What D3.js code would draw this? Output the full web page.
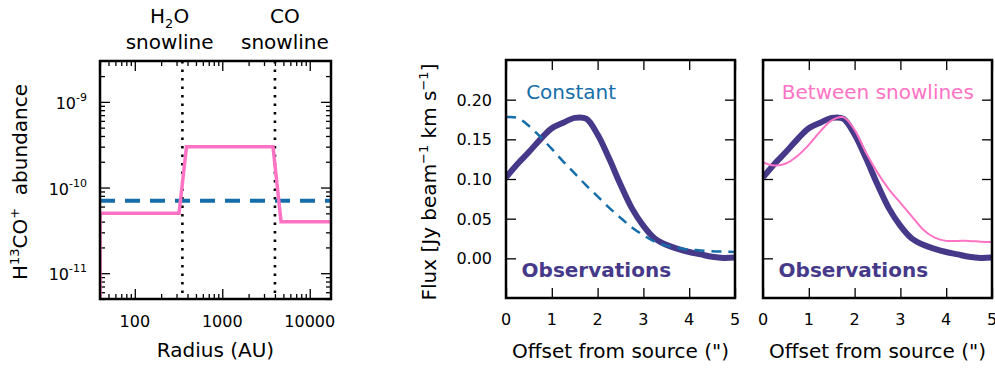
<!DOCTYPE html>
<html>
<head>
<meta charset="utf-8">
<script src="https://cdn.jsdelivr.net/npm/d3@7"></script>
<style>
  body { margin: 0; background: #fff; }
  text { font-family: "DejaVu Sans", sans-serif; fill: #000; }
</style>
</head>
<body>
<svg id="chart" width="995" height="368"></svg>
<script>
// abundance profiles (left panel)
const radiusBetween = [40, 40, 320, 390, 3800, 4700, 17500];
const abundBetween = [1e-13, 5e-11, 5e-11, 3e-10, 3e-10, 4e-11, 4e-11];
const radiusConstant = [40, 17500];
const abundConstant = [7e-11, 7e-11];
const snowlineRadius = [350, 4000];
const snowlineLabelRadius = [250, 5200];
const radiusTicks = [100, 1000, 10000];
const abundTicks = [1e-9, 1e-10, 1e-11];
const abundTickExp = ["-9", "-10", "-11"];

// radial flux profiles (middle + right panels)
const offset = [0, 0.25, 0.5, 0.75, 1, 1.25, 1.5, 1.75, 2, 2.25, 2.5, 2.75, 3, 3.25, 3.5, 3.75, 4, 4.25, 4.5, 4.75, 5];
const obsFlux = [0.102, 0.119, 0.134, 0.150, 0.164, 0.171, 0.177, 0.176, 0.156, 0.126, 0.093, 0.063, 0.041, 0.025, 0.017, 0.012, 0.008, 0.005, 0.002, 0.0005, 0.001];
const constantFlux = [0.178, 0.177, 0.167, 0.153, 0.138, 0.122, 0.107, 0.092, 0.078, 0.064, 0.051, 0.039, 0.029, 0.021, 0.016, 0.013, 0.011, 0.010, 0.009, 0.0085, 0.008];
const betweenFlux = [0.121, 0.117, 0.1195, 0.129, 0.143, 0.160, 0.174, 0.178, 0.162, 0.133, 0.108, 0.087, 0.070, 0.053, 0.036, 0.026, 0.022, 0.022, 0.022, 0.021, 0.0205];
const offsetTicks = [0, 1, 2, 3, 4, 5];
const fluxTicks = [0, 0.05, 0.10, 0.15, 0.20];

const obsColor = "#46398a";
const blue = "#156ea9";
const pink = "#ff73c4";

const svg = d3.select("#chart");

function frame(g, w, h) {
  g.append("rect").attr("width", w).attr("height", h)
    .attr("fill", "none").attr("stroke", "#000").attr("stroke-width", 2.5);
}

function clip(g, id, w, h) {
  g.append("clipPath").attr("id", id).append("rect").attr("width", w).attr("height", h);
}

// ---------- left panel ----------
const L = { x: 100, y: 61, w: 231, h: 238 };
const gl = svg.append("g").attr("transform", `translate(${L.x},${L.y})`);
clip(gl, "clipL", L.w, L.h);

const xr = d3.scaleLog().domain([40, 17500]).range([0, L.w]);
const ya = d3.scaleLog().domain([5e-12, 3e-9]).range([L.h, 0]);

// minor ticks 2..9 per decade
const minorX = [];
for (let e = 1; e <= 4; e++) for (let m = 2; m <= 9; m++) {
  const v = m * Math.pow(10, e);
  if (v >= 40 && v <= 17500) minorX.push(v);
}
const minorY = [];
for (let e = -12; e <= -9; e++) for (let m = 2; m <= 9; m++) {
  const v = m * Math.pow(10, e);
  if (v >= 5e-12 && v <= 3e-9) minorY.push(v);
}

function tickAxes(g, xs, ys, w, h, xMajor, xMinor, yMajor, yMinor) {
  const sets = [
    [d3.axisBottom(xs).tickValues(xMajor).tickSize(-10), `translate(0,${h})`],
    [d3.axisTop(xs).tickValues(xMajor).tickSize(-10), null],
    [d3.axisLeft(ys).tickValues(yMajor).tickSize(-10), null],
    [d3.axisRight(ys).tickValues(yMajor).tickSize(-10), `translate(${w},0)`]
  ];
  if (xMinor) {
    sets.push([d3.axisBottom(xs).tickValues(xMinor).tickSize(-5), `translate(0,${h})`]);
    sets.push([d3.axisTop(xs).tickValues(xMinor).tickSize(-5), null]);
  }
  if (yMinor) {
    sets.push([d3.axisLeft(ys).tickValues(yMinor).tickSize(-5), null]);
    sets.push([d3.axisRight(ys).tickValues(yMinor).tickSize(-5), `translate(${w},0)`]);
  }
  sets.forEach(([ax, tr]) => {
    const a = g.append("g").call(ax.tickFormat(""));
    if (tr) a.attr("transform", tr);
    a.select(".domain").remove();
    a.selectAll("line").attr("stroke", "#000").attr("stroke-width", 1.3);
  });
}

tickAxes(gl, xr, ya, L.w, L.h, radiusTicks, minorX, abundTicks, minorY);

// snowlines
gl.selectAll(".snow").data(snowlineRadius).enter().append("line")
  .attr("x1", d => xr(d)).attr("x2", d => xr(d))
  .attr("y1", 0).attr("y2", L.h)
  .attr("stroke", "#000").attr("stroke-width", 2.6)
  .attr("stroke-dasharray", "2.5,6");

const lineL = d3.line().x(d => xr(d[0])).y(d => ya(d[1]));
gl.append("path").datum(radiusConstant.map((r, i) => [r, abundConstant[i]]))
  .attr("d", lineL).attr("fill", "none").attr("stroke", blue)
  .attr("stroke-width", 4).attr("stroke-dasharray", "15,10")
  .attr("clip-path", "url(#clipL)");
gl.append("path").datum(radiusBetween.map((r, i) => [r, abundBetween[i]]))
  .attr("d", lineL).attr("fill", "none").attr("stroke", pink)
  .attr("stroke-width", 3.5).attr("clip-path", "url(#clipL)");

frame(gl, L.w, L.h);

// tick labels
gl.selectAll(".xl").data(radiusTicks).enter().append("text")
  .attr("x", d => xr(d)).attr("y", L.h + 28)
  .attr("text-anchor", "middle").attr("font-size", 16).text(d => d);
const yl = gl.selectAll(".yl").data(abundTicks).enter().append("text")
  .attr("x", -13).attr("y", d => ya(d) + 7)
  .attr("text-anchor", "end").attr("font-size", 16);
yl.append("tspan").text("10");
yl.append("tspan").attr("dy", -8).attr("font-size", 11).text((d, i) => abundTickExp[i]);

gl.append("text").attr("x", L.w / 2).attr("y", L.h + 58)
  .attr("text-anchor", "middle").attr("font-size", 20).text("Radius (AU)");

const ylab = svg.append("text")
  .attr("transform", "translate(27,182) rotate(-90)")
  .attr("text-anchor", "middle").attr("font-size", 20);
ylab.append("tspan").text("H");
ylab.append("tspan").attr("dy", -8).attr("font-size", 13).text("13");
ylab.append("tspan").attr("dy", 8).text("CO");
ylab.append("tspan").attr("dy", -8).attr("font-size", 13).text("+");
ylab.append("tspan").attr("dy", 8).text("\u00a0 abundance");

// snowline titles
const t0 = svg.append("text").attr("x", L.x + xr(snowlineLabelRadius[0])).attr("y", 23)
  .attr("text-anchor", "middle").attr("font-size", 20);
t0.append("tspan").text("H");
t0.append("tspan").attr("dy", 5).attr("font-size", 13).text("2");
t0.append("tspan").attr("dy", -5).text("O");
svg.append("text").attr("x", L.x + xr(snowlineLabelRadius[0])).attr("y", 49)
  .attr("text-anchor", "middle").attr("font-size", 20).text("snowline");
svg.append("text").attr("x", L.x + xr(snowlineLabelRadius[1])).attr("y", 23)
  .attr("text-anchor", "middle").attr("font-size", 20).text("CO");
svg.append("text").attr("x", L.x + xr(snowlineLabelRadius[1])).attr("y", 49)
  .attr("text-anchor", "middle").attr("font-size", 20).text("snowline");

// ---------- flux panels ----------
function fluxPanel(px, id, model, modelColor, modelLabel, dashed, showY) {
  const P = { x: px, y: 60, w: 229, h: 238 };
  const g = svg.append("g").attr("transform", `translate(${P.x},${P.y})`);
  clip(g, id, P.w, P.h);
  const x = d3.scaleLinear().domain([0, 5]).range([0, P.w]);
  const y = d3.scaleLinear().domain([-0.05, 0.25]).range([P.h, 0]);
  tickAxes(g, x, y, P.w, P.h, offsetTicks, null, fluxTicks, null);

  const line = d3.line().curve(d3.curveCatmullRom).x(d => x(d[0])).y(d => y(d[1]));
  g.append("path").datum(offset.map((o, i) => [o, obsFlux[i]]))
    .attr("d", line).attr("fill", "none").attr("stroke", obsColor)
    .attr("stroke-width", 6).attr("stroke-linejoin", "round")
    .attr("clip-path", `url(#${id})`);
  const m = g.append("path").datum(offset.map((o, i) => [o, model[i]]))
    .attr("d", line).attr("fill", "none").attr("stroke", modelColor)
    .attr("clip-path", `url(#${id})`);
  if (dashed) m.attr("stroke-width", 2.5).attr("stroke-dasharray", "10,7");
  else m.attr("stroke-width", 2);

  frame(g, P.w, P.h);

  g.selectAll(".xl").data(offsetTicks).enter().append("text")
    .attr("x", d => x(d)).attr("y", P.h + 27)
    .attr("text-anchor", "middle").attr("font-size", 16).text(d => d);
  if (showY) {
    g.selectAll(".yl").data(fluxTicks).enter().append("text")
      .attr("x", -14).attr("y", d => y(d) + 6)
      .attr("text-anchor", "end").attr("font-size", 16).text(d => d.toFixed(2));
  }
  g.append("text").attr("x", P.w / 2).attr("y", P.h + 60)
    .attr("text-anchor", "middle").attr("font-size", 20).text("Offset from source (\")");

  g.append("text").attr("x", x(0.34)).attr("y", y(-0.024))
    .attr("font-size", 20).attr("font-weight", "bold")
    .style("fill", obsColor).text("Observations");
  g.append("text").attr("x", dashed ? x(0.44) : x(0.41)).attr("y", y(0.201))
    .attr("font-size", 20).style("fill", modelColor).text(modelLabel);
  return g;
}

fluxPanel(506, "clipM", constantFlux, blue, "Constant", true, true);
fluxPanel(763, "clipR", betweenFlux, pink, "Between snowlines", false, false);

// flux y label
const fl = svg.append("text")
  .attr("transform", "translate(436,182) rotate(-90)")
  .attr("text-anchor", "middle").attr("font-size", 20);
fl.append("tspan").text("Flux [Jy beam");
fl.append("tspan").attr("dy", -8).attr("font-size", 13).text("\u22121");
fl.append("tspan").attr("dy", 8).text(" km s");
fl.append("tspan").attr("dy", -8).attr("font-size", 13).text("\u22121");
fl.append("tspan").attr("dy", 8).text("]");
</script>
</body>
</html>
